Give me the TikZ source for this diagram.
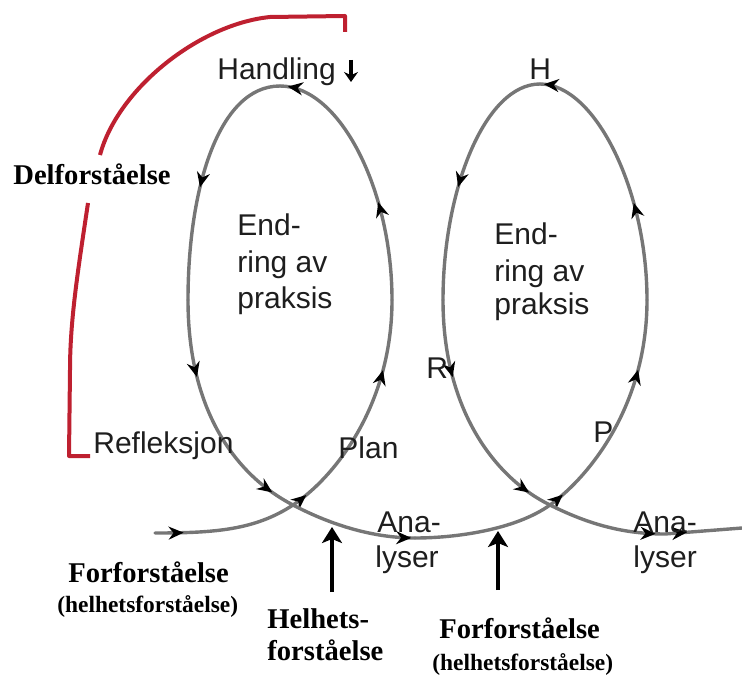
\documentclass[tikz,border=0pt]{standalone}
\usepackage{fontspec}
\setmainfont{Liberation Sans}
\newfontfamily\tnr{Liberation Serif}
\usetikzlibrary{arrows.meta,decorations.markings}
\definecolor{loopgray}{RGB}{118,118,118}
\definecolor{bracketred}{RGB}{190,32,48}
\definecolor{inkgray}{RGB}{30,30,30}
\begin{document}
\begin{tikzpicture}[x=0.5pt,y=0.5pt,
  loopline/.style={draw=loopgray,line width=1.7pt,line cap=round},
  tipat/.style={postaction={decorate,decoration={markings,
      mark=at position #1 with {\arrow{Stealth[length=7.5pt,width=6.5pt,color=black]}}}}},
  lbl/.style={font=\fontsize{15}{18}\selectfont,anchor=base west,inner sep=0pt,text=inkgray},
  blbl/.style={font=\tnr\bfseries\fontsize{14.3}{17}\selectfont,anchor=base west,inner sep=0pt,text=black},
  sblbl/.style={font=\tnr\bfseries\fontsize{11.7}{14}\selectfont,anchor=base west,inner sep=0pt,text=black},
  redline/.style={draw=bracketred,line width=2pt,line join=round},
  pointer/.style={draw=black,line width=2pt,-{Stealth[length=8pt,width=10pt,inset=2pt]}},
  smallpointer/.style={draw=black,line width=2pt,-{Stealth[length=5pt,width=7pt]}}
]
\useasboundingbox (0,0) rectangle (742,-678);

% key points of the spiral
\coordinate (A)  at (155,-533);
\coordinate (X1) at (293,-505);
\coordinate (R1) at (392,-300);
\coordinate (T1) at (280,-86);
\coordinate (L1) at (188,-300);
\coordinate (M)  at (415,-538);
\coordinate (X2) at (550,-505);
\coordinate (R2) at (647,-300);
\coordinate (T2) at (540,-84);
\coordinate (L2) at (443,-300);
\coordinate (N)  at (665,-534);
\coordinate (E)  at (742,-528);

% first loop
\draw[loopline,tipat=0.2] (A) .. controls (215,-533) and (255,-530) .. (X1);
\draw[loopline,tipat=0.07,tipat=0.7] (X1) .. controls (335,-477) and (392,-405) .. (R1);
\draw[loopline,tipat=0.38,tipat=0.97] (R1) .. controls (392,-190) and (340,-86) .. (T1);
\draw[loopline,tipat=0.55] (T1) .. controls (218,-86) and (188,-190) .. (L1);
\draw[loopline,tipat=0.32,tipat=0.9] (L1) .. controls (188,-410) and (235,-475) .. (X1);
\draw[loopline,tipat=0.97] (X1) .. controls (333,-526) and (375,-538) .. (M);
\draw[loopline] (M) .. controls (455,-538) and (515,-530) .. (X2);

% second loop
\draw[loopline,tipat=0.07,tipat=0.7] (X2) .. controls (590,-476) and (647,-405) .. (R2);
\draw[loopline,tipat=0.38,tipat=0.985] (R2) .. controls (647,-190) and (595,-84) .. (T2);
\draw[loopline,tipat=0.55] (T2) .. controls (485,-84) and (443,-190) .. (L2);
\draw[loopline,tipat=0.32,tipat=0.9] (L2) .. controls (443,-410) and (495,-478) .. (X2);
\draw[loopline,tipat=0.56,tipat=0.72] (X2) .. controls (590,-525) and (625,-534) .. (N) -- (E);

% red bracket
\coordinate (rb1) at (345,-32);
\coordinate (rb2) at (345,-16);
\coordinate (rb3) at (270,-17);
\coordinate (rb4) at (100,-155);
\coordinate (rb5) at (88,-203);
\coordinate (rb7) at (69,-456);
\coordinate (rb8) at (90,-456);
\draw[redline] (rb1) -- (rb2) -- (rb3) .. controls (200,-24) and (118,-88) .. (rb4);
\draw[redline] (rb5) .. controls (78,-270) and (70,-320) .. (70,-370) -- (rb7) -- (rb8);

% labels on the spiral
\node[lbl] (handling) at (217,-80) {Handling};
\coordinate (dtop) at (351,-60);
\coordinate (dbot) at (351,-82);
\draw[smallpointer] (dtop) -- (dbot);
\node[lbl] (hshort) at (529,-80) {H};

\node[lbl] (e1a) at (237,-235) {End-};
\node[lbl] (e1b) at (237,-272) {ring av};
\node[lbl] (e1c) at (237,-308) {praksis};
\node[lbl] (e2a) at (494,-245) {End-};
\node[lbl] (e2b) at (494,-281) {ring av};
\node[lbl] (e2c) at (494,-314) {praksis};

\node[lbl] (refl) at (93,-453) {Refleksjon};
\node[lbl] (plan) at (338,-458) {Plan};
\node[lbl] (rshort) at (426,-378) {R};
\node[lbl] (pshort) at (593,-442) {P};

\node[lbl] (ana1) at (377,-532) {Ana-};
\node[lbl] (lys1) at (375,-567) {lyser};
\node[lbl] (ana2) at (633,-532) {Ana-};
\node[lbl] (lys2) at (633,-567) {lyser};

% understanding labels
\node[blbl] (del) at (13,-185) {Delforståelse};
\node[blbl] (for1) at (68,-582) {Forforståelse};
\node[sblbl] (hel1) at (57,-612) {(helhetsforståelse)};
\node[blbl] (helA) at (267,-628) {Helhets-};
\node[blbl] (helB) at (267,-660) {forståelse};
\node[blbl] (for2) at (439,-638) {Forforståelse};
\node[sblbl] (hel2) at (432,-670) {(helhetsforståelse)};

% pointers up to the spiral
\coordinate (p1b) at (332,-592);
\coordinate (p1t) at (332,-527);
\coordinate (p2b) at (498,-590);
\coordinate (p2t) at (498,-531);
\draw[pointer] (p1b) -- (p1t);
\draw[pointer] (p2b) -- (p2t);
\end{tikzpicture}
\end{document}
